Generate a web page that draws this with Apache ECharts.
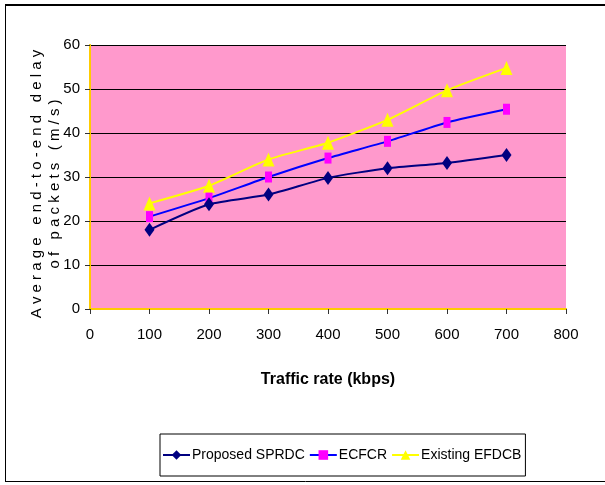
<!DOCTYPE html>
<html><head><meta charset="utf-8">
<script src="https://cdn.jsdelivr.net/npm/echarts@6/dist/echarts.min.js"></script>
<style>html,body{margin:0;padding:0;background:#fff}#c{width:605px;height:485px}</style>
</head><body><div id="c"></div>
<script>
const xValues = [100, 200, 300, 400, 500, 600, 700];
const proposedSPRDC = [18, 23.8, 26, 29.8, 32, 33.2, 35];
const ecfcr = [21, 25.2, 30, 34.3, 38.1, 42.4, 45.4];
const existingEFDCB = [24, 28, 34, 37.8, 43, 49.7, 54.8];
const seriesNames = ['Proposed SPRDC', 'ECFCR', 'Existing EFDCB'];
const xTitle = 'Traffic rate (kbps)';
const yTitleLines = ['Average end-to-end delay', 'of packets (m/s)'];

const spaced = s => s.split('').join(' ');
const narrow = '"Liberation Sans Narrow", "Arial Narrow", "Liberation Sans", sans-serif';
const pair = arr => xValues.map((x, i) => [x, arr[i]]);

const chart = echarts.init(document.getElementById('c'), null, {renderer: 'canvas'});
chart.setOption({
  animation: false,
  backgroundColor: '#fff',
  grid: {left: 90, right: 39, top: 45, bottom: 176, show: true, backgroundColor: '#FF99CC', borderWidth: 0},
  xAxis: [{
    type: 'value', min: 0, max: 800, interval: 100,
    axisLine: {show: true, onZero: false, lineStyle: {color: '#806000', width: 1.5}},
    axisTick: {show: true, inside: false, length: 5, lineStyle: {color: '#333'}},
    axisLabel: {color: '#000', fontFamily: narrow, fontSize: 15, margin: 18},
    splitLine: {show: false},
    name: xTitle, nameLocation: 'middle', nameGap: 63,
    nameTextStyle: {color: '#000', fontFamily: narrow, fontSize: 16, fontWeight: 'bold'}
  }, {
    type: 'value', min: 0, max: 800, position: 'top',
    axisLine: {show: true, lineStyle: {color: '#FFCC00', width: 2}},
    axisTick: {show: false}, axisLabel: {show: false}, splitLine: {show: false}
  }],
  yAxis: [{
    type: 'value', min: 0, max: 60, interval: 10,
    axisLine: {show: true, onZero: false, lineStyle: {color: '#806000', width: 1.5}},
    axisTick: {show: true, inside: false, length: 5, lineStyle: {color: '#333'}},
    axisLabel: {color: '#000', fontFamily: narrow, fontSize: 15, margin: 10},
    splitLine: {show: true, lineStyle: {color: '#000', width: 1}}
  }, {
    type: 'value', min: 0, max: 60, position: 'right',
    axisLine: {show: true, lineStyle: {color: '#FFCC00', width: 2}},
    axisTick: {show: false}, axisLabel: {show: false}, splitLine: {show: false}
  }],
  legend: {
    left: 160, top: 434,
    padding: [14, 4, 14, 2],
    borderColor: '#000', borderWidth: 1,
    itemGap: 4, itemWidth: 27, itemHeight: 12,
    textStyle: {color: '#000', fontFamily: narrow, fontSize: 14, padding: [0, 0, 0, -3]},
    data: seriesNames
  },
  graphic: [
    {type: 'line', shape: {x1: 5, y1: 5, x2: 610, y2: 5}, style: {stroke: '#000', lineWidth: 2}},
    {type: 'line', shape: {x1: 5.5, y1: 5, x2: 5.5, y2: 481}, style: {stroke: '#000', lineWidth: 1}},
    {type: 'line', shape: {x1: 5, y1: 481.5, x2: 610, y2: 481.5}, style: {stroke: '#000', lineWidth: 1}},
    {type: 'text', x: 46, y: 184, rotation: Math.PI / 2,
      style: {text: yTitleLines.map(spaced).join('\n'), fill: '#000', font: '15px "Liberation Sans", Arial, sans-serif',
        textAlign: 'center', textVerticalAlign: 'middle', lineHeight: 18}}
  ],
  series: [
    {name: seriesNames[0], type: 'line', data: pair(proposedSPRDC), symbol: 'diamond', symbolSize: [10, 14],
      smooth: 0.2, lineStyle: {color: '#000080', width: 2}, itemStyle: {color: '#000080'}, z: 4},
    {name: seriesNames[1], type: 'line', data: pair(ecfcr), symbol: 'rect', symbolSize: [7, 11],
      smooth: 0.2, lineStyle: {color: '#0000FF', width: 2}, itemStyle: {color: '#FF00FF'}, z: 3},
    {name: seriesNames[2], type: 'line', data: pair(existingEFDCB), symbol: 'triangle', symbolSize: [12, 14],
      smooth: 0.2, lineStyle: {color: '#FFFF00', width: 2}, itemStyle: {color: '#FFFF00'}, z: 2}
  ]
});
</script></body></html>
